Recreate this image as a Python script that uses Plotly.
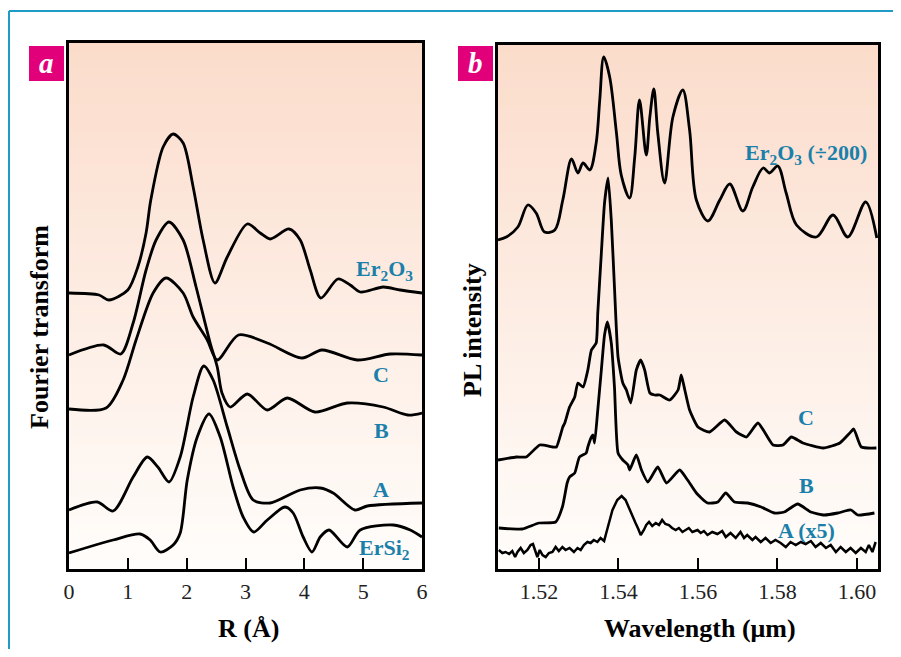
import plotly.graph_objects as go

# ---------------- Panel a : Fourier transform (arbitrary units) ----------------
r_er2o3 = [0.0, 0.51, 0.68, 1.00, 1.17, 1.31, 1.39, 1.60, 1.77, 1.94, 2.11, 2.28, 2.48, 2.69,
           3.03, 3.25, 3.42, 3.74, 3.93, 4.10, 4.28, 4.57, 4.78, 4.95, 5.34, 5.63, 6.0]
ft_er2o3 = [276, 274, 269, 279, 302, 336, 369, 422, 435, 426, 382, 329, 286, 312,
            345, 336, 330, 340, 329, 299, 271, 290, 284, 277, 282, 279, 276]

r_c = [0.0, 0.63, 0.92, 1.14, 1.43, 1.65, 1.94, 2.11, 2.35, 2.52, 2.88, 3.37, 3.96, 4.30, 4.90, 5.46, 6.0]
ft_c = [160, 161, 189, 229, 276, 291, 276, 252, 229, 209, 234, 226, 211, 219, 209, 215, 214]

r_b = [0.0, 0.59, 0.88, 1.09, 1.31, 1.48, 1.70, 1.94, 2.16, 2.40, 2.52, 2.60, 2.74, 3.03,
       3.37, 3.71, 4.18, 4.73, 5.34, 5.76, 6.0]
ft_b = [214, 224, 215, 246, 299, 329, 347, 329, 282, 226, 202, 176, 162, 175,
        159, 171, 157, 166, 162, 154, 156]

r_a = [0.0, 0.48, 0.75, 1.09, 1.33, 1.51, 1.70, 1.89, 2.11, 2.29, 2.45, 2.69, 2.91, 3.13,
       3.42, 3.93, 4.27, 4.49, 4.86, 5.07, 6.0]
ft_a = [59, 67, 58, 92, 112, 102, 87, 112, 172, 203, 189, 142, 99, 69,
        66, 79, 81, 76, 59, 63, 66]

r_ersi2 = [0.0, 0.75, 1.21, 1.38, 1.55, 1.77, 1.89, 2.01, 2.18, 2.38, 2.57, 2.79, 2.96, 3.14,
           3.37, 3.67, 3.81, 3.98, 4.13, 4.27, 4.42, 4.73, 4.95, 5.51, 5.80, 6.0]
ft_ersi2 = [16, 29, 35, 29, 17, 24, 36, 89, 132, 155, 132, 82, 52, 37,
            49, 62, 56, 32, 17, 32, 39, 22, 39, 44, 39, 32]

r_ticks = [0, 1, 2, 3, 4, 5, 6]

# ---------------- Panel b : PL intensity (arbitrary units) ----------------
wl_er2o3 = [1.5097, 1.5118, 1.5147, 1.5172, 1.5193, 1.5214, 1.5240, 1.5260, 1.5282, 1.5298,
            1.5311, 1.5328, 1.5344, 1.5353, 1.5363, 1.5378, 1.5395, 1.5407, 1.5428, 1.5441,
            1.5453, 1.5470, 1.5479, 1.5489, 1.5499, 1.5516, 1.5537, 1.5562, 1.5579, 1.5596,
            1.5625, 1.5655, 1.5680, 1.5713, 1.5738, 1.5764, 1.5780, 1.5801, 1.5822, 1.5848,
            1.5898, 1.5940, 1.5977, 1.6022, 1.6050]
pl_er2o3 = [329, 332, 342, 364, 356, 337, 339, 369, 410, 396,
            406, 399, 426, 469, 512, 492, 436, 394, 371, 412,
            469, 414, 452, 480, 436, 386, 452, 479, 439, 369,
            348, 369, 385, 358, 382, 401, 396, 403, 376, 344,
            332, 354, 332, 367, 331]

wl_c = [1.5097, 1.5143, 1.5168, 1.5202, 1.5235, 1.5244, 1.5260, 1.5265, 1.5277, 1.5290,
        1.5298, 1.5311, 1.5323, 1.5332, 1.5344, 1.5348, 1.5357, 1.5365, 1.5374, 1.5382,
        1.5390, 1.5399, 1.5411, 1.5420, 1.5431, 1.5445, 1.5456, 1.5466, 1.5479, 1.5491,
        1.5504, 1.5529, 1.5550, 1.5558, 1.5567, 1.5579, 1.5600, 1.5629, 1.5667, 1.5697,
        1.5722, 1.5751, 1.5789, 1.5814, 1.5835, 1.5864, 1.5915, 1.5957, 1.5982, 1.5992,
        1.6011, 1.6049]
pl_c = [109, 112, 112, 124, 122, 122, 142, 146, 162, 172,
        186, 182, 199, 219, 226, 256, 316, 366, 391, 349,
        282, 212, 186, 179, 166, 199, 209, 199, 176, 174,
        174, 169, 179, 194, 179, 159, 142, 137, 149, 137,
        132, 146, 124, 124, 132, 126, 121, 126, 136, 140,
        122, 121]

wl_b = [1.5099, 1.5158, 1.5200, 1.5242, 1.5259, 1.5271, 1.5277, 1.5290, 1.5302, 1.5319,
        1.5323, 1.5332, 1.5336, 1.5340, 1.5348, 1.5357, 1.5365, 1.5372, 1.5382, 1.5390,
        1.5399, 1.5411, 1.5424, 1.5428, 1.5445, 1.5458, 1.5474, 1.5499, 1.5521, 1.5554,
        1.5574, 1.5596, 1.5624, 1.5650, 1.5670, 1.5692, 1.5725, 1.5759, 1.5792, 1.5817,
        1.5851, 1.5884, 1.5918, 1.5952, 1.5985, 1.6002, 1.6044]
pl_b = [41, 40, 46, 47, 62, 86, 92, 96, 112, 116,
        122, 132, 134, 126, 159, 199, 234, 247, 226, 182,
        116, 109, 104, 99, 114, 99, 87, 102, 86, 99,
        89, 76, 66, 67, 76, 67, 66, 62, 56, 57,
        65, 57, 54, 56, 59, 54, 56]

wl_a = [1.5099, 1.5108, 1.5116, 1.5125, 1.5133, 1.5140, 1.5146, 1.5154, 1.5162, 1.5171,
        1.5179, 1.5185, 1.5190, 1.5196, 1.5202, 1.5209, 1.5217, 1.5225, 1.5234, 1.5242,
        1.5250, 1.5259, 1.5267, 1.5277, 1.5288, 1.5297, 1.5305, 1.5313, 1.5322, 1.5330,
        1.5338, 1.5347, 1.5355, 1.5364, 1.5370, 1.5385, 1.5397, 1.5408, 1.5418, 1.5431,
        1.5443, 1.5450, 1.5456, 1.5464, 1.5470, 1.5477, 1.5485, 1.5494, 1.5502, 1.5510,
        1.5518, 1.5527, 1.5535, 1.5544, 1.5552, 1.5561, 1.5569, 1.5577, 1.5586, 1.5599,
        1.5607, 1.5615, 1.5624, 1.5636, 1.5649, 1.5661, 1.5670, 1.5682, 1.5695, 1.5707,
        1.5716, 1.5724, 1.5737, 1.5745, 1.5758, 1.5770, 1.5783, 1.5795, 1.5808, 1.5821,
        1.5833, 1.5846, 1.5859, 1.5871, 1.5884, 1.5896, 1.5909, 1.5922, 1.5934, 1.5947,
        1.5959, 1.5972, 1.5984, 1.5997, 1.6010, 1.6022, 1.6030, 1.6039, 1.6047]
pl_a = [19, 16, 17, 15, 18, 12, 17, 21, 16, 19,
        24, 25, 19, 12, 19, 14, 12, 16, 17, 22,
        18, 22, 19, 21, 17, 21, 19, 24, 27, 26,
        29, 27, 31, 28, 37, 59, 69, 73, 69, 56,
        46, 40, 34, 39, 44, 47, 43, 46, 44, 49,
        45, 44, 41, 39, 41, 37, 39, 41, 37, 39,
        36, 38, 34, 37, 35, 38, 32, 36, 31, 37,
        31, 34, 29, 32, 27, 31, 26, 29, 26, 22,
        27, 24, 27, 25, 28, 22, 26, 21, 24, 17,
        22, 17, 21, 16, 21, 17, 24, 17, 27]

wl_ticks = [1.52, 1.54, 1.56, 1.58, 1.60]
wl_ticktext = ["1.52", "1.54", "1.56", "1.58", "1.60"]

# ---------------- figure ----------------
# page body has an 8px margin: the figure is sized to fit inside the window
OFF = 8
W, H = 901 - 2 * OFF, 657 - 2 * OFF
SERIF = "Liberation Serif, Times New Roman, serif"
TEAL = "#1a80ab"
MAGENTA = "#e2007a"
BORDER = "#1f9bc6"


def px(x):
    return (x - OFF) / W


def py(y):
    return 1 - (y - OFF) / H


fig = go.Figure()


def add_line(x, y, xa, ya, shape="spline", smoothing=0.8, width=2.8):
    fig.add_trace(go.Scatter(x=x, y=y, mode="lines", xaxis=xa, yaxis=ya,
                             line=dict(color="black", width=width, shape=shape,
                                       smoothing=smoothing),
                             showlegend=False, hoverinfo="skip"))


add_line(r_er2o3, ft_er2o3, "x", "y")
add_line(r_c, ft_c, "x", "y")
add_line(r_b, ft_b, "x", "y")
add_line(r_a, ft_a, "x", "y")
add_line(r_ersi2, ft_ersi2, "x", "y")

add_line(wl_er2o3, pl_er2o3, "x2", "y2", shape="spline", smoothing=0.9)
add_line(wl_c, pl_c, "x2", "y2", shape="spline", smoothing=0.5)
add_line(wl_b, pl_b, "x2", "y2", shape="spline", smoothing=0.5)
add_line(wl_a, pl_a, "x2", "y2", shape="linear", width=2.5)

# gradient backgrounds
shapes = []
N = 60
top = (251, 220, 203)
bot = (255, 253, 251)
for ax in ("x", "x2"):
    yref = "y domain" if ax == "x" else "y2 domain"
    for i in range(N):
        t = (i + 0.5) / N
        c = tuple(round(bot[k] + (top[k] - bot[k]) * t) for k in range(3))
        shapes.append(dict(type="rect", xref=ax + " domain", yref=yref,
                           x0=0, x1=1, y0=i / N, y1=(i + 1) / N + 0.002,
                           fillcolor="rgb(%d,%d,%d)" % c, line=dict(width=0),
                           layer="below"))

# blue frame (top and left)
shapes.append(dict(type="line", xref="paper", yref="paper", x0=px(9), x1=1.0,
                   y0=py(11), y1=py(11), line=dict(color=BORDER, width=2)))
shapes.append(dict(type="line", xref="paper", yref="paper", x0=px(9), x1=px(9),
                   y0=py(11), y1=0, line=dict(color=BORDER, width=2)))
# panel letter boxes
for x0 in (29, 458):
    shapes.append(dict(type="rect", xref="paper", yref="paper", x0=px(x0), x1=px(x0 + 35),
                       y0=py(81), y1=py(46), fillcolor=MAGENTA, line=dict(width=0)))

annotations = []


def ann(text, x, y, size=22, color=TEAL, angle=0, bold=True, italic=False):
    t = text
    if bold:
        t = "<b>" + t + "</b>"
    if italic:
        t = "<i>" + t + "</i>"
    annotations.append(dict(text=t, x=px(x), y=py(y), xref="paper", yref="paper",
                            showarrow=False, textangle=angle, xanchor="center",
                            yanchor="middle",
                            font=dict(family=SERIF, size=size, color=color)))


ann("a", 46.5, 63, size=29, color="white", italic=True)
ann("b", 475.5, 63, size=29, color="white", italic=True)

ann("Er<sub>2</sub>O<sub>3</sub>", 384, 270)
ann("C", 381, 374)
ann("B", 381, 430)
ann("A", 381, 489)
ann("ErSi<sub>2</sub>", 384, 549)

ann("Er<sub>2</sub>O<sub>3</sub> (÷200)", 806, 154)
ann("C", 806, 417)
ann("B", 806, 485)
ann("A (x5)", 806, 530)

ann("R (Å)", 248, 628, size=26, color="black")
ann("Wavelength (μm)", 700, 628, size=26, color="black")
ann("Fourier transform", 39, 327, size=26, color="black", angle=-90)
ann("PL intensity", 473, 330, size=26, color="black", angle=-90)

axis_common = dict(showline=True, mirror=True, linecolor="black", linewidth=2.6,
                   showgrid=False, zeroline=False)
tickfont = dict(family=SERIF, size=22, color="#222")

fig.update_layout(
    width=W, height=H, margin=dict(l=0, r=0, t=0, b=0, autoexpand=False),
    paper_bgcolor="white", plot_bgcolor="rgba(0,0,0,0)",
    xaxis=dict(domain=[px(69), px(422)], range=[0, 6], anchor="y",
               tickvals=r_ticks, ticks="inside", ticklen=11, tickwidth=2,
               tickcolor="black", ticklabelstandoff=1,
               tickfont=tickfont, **axis_common),
    yaxis=dict(domain=[py(569), py(43)], range=[0, 526], anchor="x",
               showticklabels=False, ticks="", **axis_common),
    xaxis2=dict(domain=[px(498), px(878)], range=[1.5097, 1.6053], anchor="y2",
                tickvals=wl_ticks, ticktext=wl_ticktext, ticks="inside", ticklen=11,
                tickwidth=2, tickcolor="black", ticklabelstandoff=1,
                tickfont=tickfont, **axis_common),
    yaxis2=dict(domain=[py(569), py(45)], range=[0, 524], anchor="x2",
                showticklabels=False, ticks="", **axis_common),
    shapes=shapes, annotations=annotations,
)

fig.write_html("out.html")
